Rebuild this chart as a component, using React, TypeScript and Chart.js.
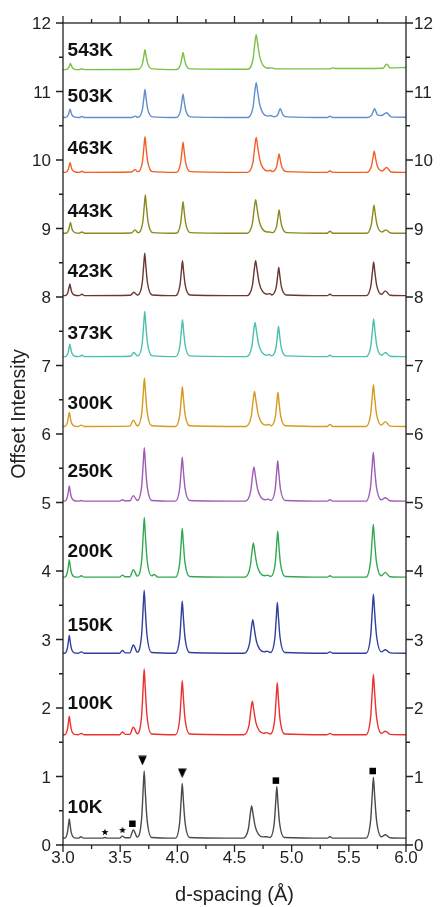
import React, { useEffect, useRef } from "react";
import { Chart, registerables } from "chart.js";

Chart.register(...registerables);

// ---------- data ----------
const TEMPS = ["10K", "100K", "150K", "200K", "250K", "300K", "373K", "423K", "443K", "463K", "503K", "543K"];
const COLORS = ["#4a4a4a", "#ec2f2f", "#2f3f9e", "#33a852", "#a05bb5", "#d69a1e", "#4cbfae", "#6b3530", "#8a8a20", "#f15f24", "#5f8fcc", "#7bc043"];
const LABEL_Y = [0.56, 2.07, 3.22, 4.3, 5.46, 6.46, 7.48, 8.38, 9.26, 10.18, 10.94, 11.61];
const LABEL_X = 3.04;

const X_TICKS = [3.0, 3.5, 4.0, 4.5, 5.0, 5.5, 6.0];
const Y_TICKS = [0, 1, 2, 3, 4, 5, 6, 7, 8, 9, 10, 11, 12];

const T10K = [
  [3.0, 0.1], [3.015, 0.1], [3.039, 0.184], [3.048, 0.296], [3.055, 0.38], [3.062, 0.296], [3.072, 0.184], [3.1, 0.105],
  [3.135, 0.1], [3.157, 0.12], [3.18, 0.1],
  [3.345, 0.1], [3.367, 0.11], [3.39, 0.1],
  [3.495, 0.1], [3.52, 0.13], [3.545, 0.105],
  [3.585, 0.105], [3.615, 0.22], [3.645, 0.12],
  [3.65, 0.115], [3.688, 0.394], [3.701, 0.806], [3.71, 1.08], [3.719, 0.806], [3.734, 0.394], [3.775, 0.11],
  [3.983, 0.1], [4.021, 0.34], [4.034, 0.676], [4.043, 0.9], [4.052, 0.676], [4.067, 0.34], [4.108, 0.11],
  [4.575, 0.1], [4.622, 0.241], [4.638, 0.453], [4.65, 0.57], [4.662, 0.453], [4.682, 0.265], [4.71, 0.156], [4.75, 0.119],
  [4.78, 0.12],
  [4.81, 0.11], [4.848, 0.325], [4.861, 0.64], [4.87, 0.85], [4.879, 0.64], [4.894, 0.325], [4.935, 0.11],
  [5.31, 0.1], [5.335, 0.12], [5.36, 0.1],
  [5.65, 0.1], [5.691, 0.367], [5.705, 0.741], [5.715, 0.99], [5.725, 0.741], [5.742, 0.367], [5.785, 0.12],
  [5.82, 0.15], [5.86, 0.105], [6.0, 0.1],
];
const T100K = [
  [3.0, 1.61], [3.015, 1.61], [3.039, 1.691], [3.048, 1.799], [3.055, 1.88], [3.062, 1.799], [3.072, 1.691], [3.1, 1.615],
  [3.135, 1.61], [3.16, 1.63], [3.185, 1.61],
  [3.495, 1.61], [3.52, 1.65], [3.545, 1.615],
  [3.585, 1.615], [3.615, 1.72], [3.645, 1.63],
  [3.65, 1.625], [3.688, 1.898], [3.701, 2.301], [3.71, 2.57], [3.719, 2.301], [3.734, 1.898], [3.775, 1.62],
  [3.983, 1.61], [4.021, 1.847], [4.034, 2.179], [4.043, 2.4], [4.052, 2.179], [4.067, 1.847], [4.108, 1.62],
  [4.581, 1.61], [4.628, 1.757], [4.644, 1.978], [4.656, 2.1], [4.668, 1.978], [4.688, 1.782], [4.716, 1.669], [4.756, 1.63],
  [4.78, 1.64],
  [4.814, 1.62], [4.852, 1.838], [4.865, 2.157], [4.874, 2.37], [4.883, 2.157], [4.898, 1.838], [4.939, 1.62],
  [5.31, 1.61], [5.335, 1.63], [5.36, 1.61],
  [5.65, 1.61], [5.691, 1.874], [5.705, 2.244], [5.715, 2.49], [5.725, 2.244], [5.742, 1.874], [5.785, 1.63],
  [5.82, 1.66], [5.86, 1.615], [6.0, 1.61],
];
const T150K = [
  [3.0, 2.8], [3.015, 2.8], [3.039, 2.878], [3.048, 2.982], [3.055, 3.06], [3.062, 2.982], [3.072, 2.878], [3.1, 2.805],
  [3.135, 2.8], [3.16, 2.82], [3.185, 2.8],
  [3.495, 2.8], [3.52, 2.84], [3.545, 2.805],
  [3.585, 2.805], [3.615, 2.92], [3.645, 2.82],
  [3.65, 2.815], [3.688, 3.076], [3.701, 3.462], [3.71, 3.72], [3.719, 3.462], [3.734, 3.076], [3.775, 2.81],
  [3.983, 2.8], [4.021, 3.028], [4.034, 3.347], [4.043, 3.56], [4.052, 3.347], [4.067, 3.028], [4.108, 2.81],
  [4.585, 2.8], [4.632, 2.947], [4.648, 3.168], [4.66, 3.29], [4.672, 3.168], [4.692, 2.972], [4.72, 2.859], [4.76, 2.82],
  [4.785, 2.83],
  [4.815, 2.81], [4.853, 3.022], [4.866, 3.333], [4.875, 3.54], [4.884, 3.333], [4.899, 3.022], [4.94, 2.81],
  [5.31, 2.8], [5.335, 2.82], [5.36, 2.8],
  [5.65, 2.8], [5.691, 3.058], [5.705, 3.419], [5.715, 3.66], [5.725, 3.419], [5.742, 3.058], [5.785, 2.82],
  [5.82, 2.85], [5.86, 2.805], [6.0, 2.8],
];
const T200K = [
  [3.0, 3.91], [3.015, 3.91], [3.039, 3.985], [3.048, 4.085], [3.055, 4.16], [3.062, 4.085], [3.072, 3.985], [3.1, 3.915],
  [3.135, 3.91], [3.16, 3.93], [3.185, 3.91],
  [3.495, 3.91], [3.52, 3.94], [3.545, 3.915],
  [3.585, 3.915], [3.615, 4.02], [3.645, 3.93],
  [3.651, 3.925], [3.689, 4.171], [3.702, 4.536], [3.711, 4.78], [3.72, 4.536], [3.735, 4.171], [3.776, 3.93],
  [3.797, 3.95], [3.83, 3.91],
  [3.983, 3.91], [4.021, 4.123], [4.034, 4.421], [4.043, 4.62], [4.052, 4.421], [4.067, 4.123], [4.108, 3.92],
  [4.59, 3.91], [4.637, 4.06], [4.653, 4.285], [4.665, 4.41], [4.677, 4.285], [4.697, 4.085], [4.725, 3.97], [4.765, 3.93],
  [4.79, 3.94],
  [4.818, 3.92], [4.856, 4.111], [4.869, 4.392], [4.878, 4.58], [4.887, 4.392], [4.902, 4.111], [4.943, 3.92],
  [5.31, 3.91], [5.335, 3.93], [5.36, 3.91],
  [5.649, 3.91], [5.69, 4.141], [5.704, 4.464], [5.714, 4.68], [5.724, 4.464], [5.741, 4.141], [5.784, 3.93],
  [5.82, 3.98], [5.86, 3.915], [6.0, 3.91],
];
const T250K = [
  [3.0, 5.02], [3.015, 5.02], [3.039, 5.086], [3.048, 5.174], [3.055, 5.24], [3.062, 5.174], [3.072, 5.086], [3.1, 5.025],
  [3.135, 5.02], [3.16, 5.03], [3.185, 5.02],
  [3.495, 5.02], [3.52, 5.04], [3.545, 5.025],
  [3.585, 5.025], [3.615, 5.1], [3.645, 5.035],
  [3.651, 5.03], [3.689, 5.254], [3.702, 5.582], [3.711, 5.8], [3.72, 5.582], [3.735, 5.254], [3.776, 5.03],
  [3.983, 5.02], [4.021, 5.212], [4.034, 5.481], [4.043, 5.66], [4.052, 5.481], [4.067, 5.212], [4.108, 5.03],
  [4.595, 5.02], [4.642, 5.17], [4.658, 5.395], [4.67, 5.52], [4.682, 5.395], [4.702, 5.195], [4.73, 5.08], [4.77, 5.04],
  [4.795, 5.05],
  [4.818, 5.03], [4.856, 5.197], [4.869, 5.445], [4.878, 5.61], [4.887, 5.445], [4.902, 5.197], [4.943, 5.03],
  [5.31, 5.02], [5.335, 5.04], [5.36, 5.02],
  [5.649, 5.02], [5.69, 5.233], [5.704, 5.531], [5.714, 5.73], [5.724, 5.531], [5.741, 5.233], [5.784, 5.04],
  [5.82, 5.07], [5.86, 5.025], [6.0, 5.02],
];
const T300K = [
  [3.0, 6.11], [3.015, 6.11], [3.039, 6.173], [3.048, 6.257], [3.055, 6.32], [3.062, 6.257], [3.072, 6.173], [3.1, 6.115],
  [3.135, 6.11], [3.16, 6.13], [3.185, 6.11],
  [3.585, 6.115], [3.615, 6.2], [3.645, 6.125],
  [3.652, 6.12], [3.69, 6.323], [3.703, 6.621], [3.712, 6.82], [3.721, 6.621], [3.736, 6.323], [3.777, 6.12],
  [3.984, 6.11], [4.022, 6.284], [4.035, 6.528], [4.044, 6.69], [4.053, 6.528], [4.068, 6.284], [4.109, 6.12],
  [4.6, 6.11], [4.647, 6.263], [4.663, 6.493], [4.675, 6.62], [4.687, 6.493], [4.707, 6.289], [4.735, 6.171], [4.775, 6.13],
  [4.8, 6.14],
  [4.82, 6.12], [4.858, 6.26], [4.871, 6.47], [4.88, 6.61], [4.889, 6.47], [4.904, 6.26], [4.945, 6.12],
  [5.31, 6.11], [5.335, 6.14], [5.36, 6.11],
  [5.65, 6.11], [5.691, 6.293], [5.705, 6.549], [5.715, 6.72], [5.725, 6.549], [5.742, 6.293], [5.785, 6.13],
  [5.82, 6.18], [5.86, 6.115], [6.0, 6.11],
];
const T373K = [
  [3.0, 7.13], [3.02, 7.13], [3.044, 7.184], [3.053, 7.256], [3.06, 7.31], [3.067, 7.256], [3.077, 7.184], [3.105, 7.135],
  [3.14, 7.13], [3.165, 7.15], [3.19, 7.13],
  [3.59, 7.135], [3.62, 7.19], [3.65, 7.14],
  [3.655, 7.14], [3.693, 7.328], [3.706, 7.605], [3.715, 7.79], [3.724, 7.605], [3.739, 7.328], [3.78, 7.14],
  [3.985, 7.13], [4.023, 7.292], [4.036, 7.519], [4.045, 7.67], [4.054, 7.519], [4.069, 7.292], [4.11, 7.14],
  [4.605, 7.13], [4.652, 7.28], [4.668, 7.505], [4.68, 7.63], [4.692, 7.505], [4.712, 7.305], [4.74, 7.19], [4.78, 7.15],
  [4.805, 7.16],
  [4.825, 7.14], [4.863, 7.262], [4.876, 7.447], [4.885, 7.57], [4.894, 7.447], [4.909, 7.262], [4.95, 7.14],
  [5.31, 7.13], [5.335, 7.15], [5.36, 7.13],
  [5.652, 7.13], [5.693, 7.295], [5.707, 7.526], [5.717, 7.68], [5.727, 7.526], [5.744, 7.295], [5.787, 7.15],
  [5.82, 7.19], [5.86, 7.135], [6.0, 7.13],
];
const T423K = [
  [3.0, 8.02], [3.02, 8.02], [3.044, 8.071], [3.053, 8.139], [3.06, 8.19], [3.067, 8.139], [3.077, 8.071], [3.105, 8.025],
  [3.14, 8.02], [3.165, 8.04], [3.19, 8.02],
  [3.59, 8.025], [3.62, 8.07], [3.65, 8.03],
  [3.655, 8.03], [3.693, 8.206], [3.706, 8.466], [3.715, 8.64], [3.724, 8.466], [3.739, 8.206], [3.78, 8.03],
  [3.985, 8.02], [4.023, 8.173], [4.036, 8.387], [4.045, 8.53], [4.054, 8.387], [4.069, 8.173], [4.11, 8.03],
  [4.61, 8.02], [4.657, 8.173], [4.673, 8.403], [4.685, 8.53], [4.697, 8.403], [4.717, 8.199], [4.745, 8.081], [4.785, 8.04],
  [4.81, 8.05],
  [4.827, 8.03], [4.865, 8.143], [4.878, 8.315], [4.887, 8.43], [4.896, 8.315], [4.911, 8.143], [4.952, 8.03],
  [5.31, 8.02], [5.335, 8.04], [5.36, 8.02],
  [5.652, 8.02], [5.693, 8.167], [5.707, 8.373], [5.717, 8.51], [5.727, 8.373], [5.744, 8.167], [5.787, 8.04],
  [5.82, 8.09], [5.86, 8.025], [6.0, 8.02],
];
const T443K = [
  [3.0, 8.93], [3.025, 8.93], [3.049, 8.978], [3.058, 9.042], [3.065, 9.09], [3.072, 9.042], [3.082, 8.978], [3.11, 8.935],
  [3.14, 8.93], [3.165, 8.95], [3.19, 8.93],
  [3.6, 8.935], [3.63, 8.98], [3.655, 8.94],
  [3.66, 8.94], [3.698, 9.098], [3.711, 9.333], [3.72, 9.49], [3.729, 9.333], [3.744, 9.098], [3.785, 8.94],
  [3.99, 8.93], [4.028, 9.068], [4.041, 9.261], [4.05, 9.39], [4.059, 9.261], [4.074, 9.068], [4.115, 8.94],
  [4.61, 8.93], [4.657, 9.077], [4.673, 9.298], [4.685, 9.42], [4.697, 9.298], [4.717, 9.102], [4.745, 8.989], [4.785, 8.95],
  [4.81, 8.95],
  [4.83, 8.94], [4.868, 9.032], [4.881, 9.175], [4.89, 9.27], [4.899, 9.175], [4.914, 9.032], [4.955, 8.94],
  [5.31, 8.93], [5.335, 8.96], [5.36, 8.93],
  [5.655, 8.93], [5.696, 9.053], [5.71, 9.225], [5.72, 9.34], [5.73, 9.225], [5.747, 9.053], [5.79, 8.95],
  [5.825, 8.98], [5.865, 8.935], [6.0, 8.93],
];
const T463K = [
  [3.0, 9.82], [3.022, 9.82], [3.046, 9.862], [3.055, 9.918], [3.062, 9.96], [3.069, 9.918], [3.079, 9.862], [3.107, 9.825],
  [3.14, 9.82], [3.165, 9.835], [3.19, 9.82],
  [3.6, 9.825], [3.63, 9.86], [3.652, 9.83],
  [3.657, 9.83], [3.695, 9.976], [3.708, 10.194], [3.717, 10.34], [3.726, 10.194], [3.741, 9.976], [3.782, 9.83],
  [3.99, 9.82], [4.028, 9.952], [4.041, 10.137], [4.05, 10.26], [4.059, 10.137], [4.074, 9.952], [4.115, 9.83],
  [4.615, 9.82], [4.662, 9.973], [4.678, 10.203], [4.69, 10.33], [4.702, 10.203], [4.722, 9.999], [4.75, 9.881], [4.79, 9.84],
  [4.815, 9.85],
  [4.83, 9.83], [4.868, 9.901], [4.881, 10.014], [4.89, 10.09], [4.899, 10.014], [4.914, 9.901], [4.955, 9.83],
  [5.31, 9.82], [5.335, 9.84], [5.36, 9.82],
  [5.657, 9.82], [5.698, 9.913], [5.712, 10.043], [5.722, 10.13], [5.732, 10.043], [5.749, 9.913], [5.792, 9.84],
  [5.83, 9.89], [5.87, 9.825], [6.0, 9.82],
];
const T503K = [
  [3.0, 10.62], [3.022, 10.62], [3.046, 10.656], [3.055, 10.704], [3.062, 10.74], [3.069, 10.704], [3.079, 10.656], [3.107, 10.625],
  [3.14, 10.62], [3.165, 10.635], [3.19, 10.62],
  [3.6, 10.62], [3.63, 10.64], [3.652, 10.625],
  [3.657, 10.625], [3.695, 10.743], [3.708, 10.915], [3.717, 11.03], [3.726, 10.915], [3.741, 10.743], [3.782, 10.63],
  [3.99, 10.62], [4.028, 10.722], [4.041, 10.865], [4.05, 10.96], [4.059, 10.865], [4.074, 10.722], [4.115, 10.63],
  [4.615, 10.62], [4.662, 10.773], [4.678, 11.003], [4.69, 11.13], [4.702, 11.003], [4.722, 10.799], [4.75, 10.681], [4.79, 10.64],
  [4.815, 10.65],
  [4.845, 10.63], [4.878, 10.659], [4.89, 10.714], [4.9, 10.75], [4.91, 10.714], [4.924, 10.659], [4.96, 10.63],
  [5.31, 10.62], [5.335, 10.64], [5.36, 10.62],
  [5.665, 10.62], [5.701, 10.659], [5.714, 10.714], [5.725, 10.75], [5.736, 10.714], [5.75, 10.659], [5.785, 10.65],
  [5.83, 10.69], [5.87, 10.63], [6.0, 10.625],
];
const T543K = [
  [3.0, 11.32], [3.025, 11.32], [3.049, 11.347], [3.058, 11.383], [3.065, 11.41], [3.072, 11.383], [3.082, 11.347], [3.11, 11.32],
  [3.14, 11.32], [3.165, 11.33], [3.19, 11.32],
  [3.657, 11.325], [3.695, 11.407], [3.708, 11.529], [3.717, 11.61], [3.726, 11.529], [3.741, 11.407], [3.782, 11.33],
  [3.99, 11.32], [4.028, 11.395], [4.041, 11.5], [4.05, 11.57], [4.059, 11.5], [4.074, 11.395], [4.115, 11.33],
  [4.615, 11.325], [4.662, 11.473], [4.678, 11.703], [4.69, 11.83], [4.702, 11.703], [4.722, 11.499], [4.75, 11.381], [4.79, 11.34],
  [4.825, 11.345], [4.86, 11.33],
  [5.33, 11.33], [5.36, 11.345], [5.39, 11.335],
  [5.8, 11.34], [5.83, 11.4], [5.86, 11.345], [6.0, 11.35],
];
const TRACES = [T10K, T100K, T150K, T200K, T250K, T300K, T373K, T423K, T443K, T463K, T503K, T543K];

// phase markers on the 10K pattern
const TRIANGLES = [[3.695, 1.235], [4.043, 1.05]];
const SQUARES = [[3.607, 0.31], [4.862, 0.94], [5.709, 1.08]];
const STARS = [[3.367, 0.19], [3.52, 0.22]];

const FONT = "'Liberation Sans', Arial, Helvetica, sans-serif";

function makeTriangle(): HTMLCanvasElement {
  const c = document.createElement("canvas");
  c.width = 9;
  c.height = 10;
  const g = c.getContext("2d")!;
  g.fillStyle = "#000";
  g.beginPath();
  g.moveTo(0.2, 0.5);
  g.lineTo(8.8, 0.5);
  g.lineTo(4.5, 10);
  g.closePath();
  g.fill();
  return c;
}

function makeStar(): HTMLCanvasElement {
  const c = document.createElement("canvas");
  c.width = 8;
  c.height = 8;
  const g = c.getContext("2d")!;
  g.fillStyle = "#000";
  g.beginPath();
  for (let i = 0; i < 10; i++) {
    const r = i % 2 === 0 ? 3.6 : 1.5;
    const a = -Math.PI / 2 + (i * Math.PI) / 5;
    const px = 4 + r * Math.cos(a);
    const py = 4.3 + r * Math.sin(a);
    if (i === 0) g.moveTo(px, py);
    else g.lineTo(px, py);
  }
  g.closePath();
  g.fill();
  return c;
}

const framePlugin = {
  id: "framePlugin",
  afterDatasetsDraw(chart: any) {
    const { ctx, chartArea } = chart;
    const { left, right, top, bottom } = chartArea;
    const xs = chart.scales.x;
    const ys = chart.scales.y;
    ctx.save();
    ctx.strokeStyle = "#222";
    ctx.lineWidth = 1.3;
    ctx.strokeRect(left, top, right - left, bottom - top);

    const MAJ = 7;
    const MIN = 4;
    ctx.beginPath();
    X_TICKS.forEach((v, i) => {
      const px = xs.getPixelForValue(v);
      ctx.moveTo(px, bottom);
      ctx.lineTo(px, bottom + MAJ);
      ctx.moveTo(px, top);
      ctx.lineTo(px, top - MAJ);
      if (i < X_TICKS.length - 1) {
        const mx = xs.getPixelForValue((v + X_TICKS[i + 1]) / 2);
        ctx.moveTo(mx, bottom);
        ctx.lineTo(mx, bottom + MIN);
        ctx.moveTo(mx, top);
        ctx.lineTo(mx, top - MIN);
      }
    });
    Y_TICKS.forEach((v, i) => {
      const py = ys.getPixelForValue(v);
      ctx.moveTo(left, py);
      ctx.lineTo(left - MAJ, py);
      ctx.moveTo(right, py);
      ctx.lineTo(right + MAJ, py);
      if (i < Y_TICKS.length - 1) {
        const my = ys.getPixelForValue((v + Y_TICKS[i + 1]) / 2);
        ctx.moveTo(left, my);
        ctx.lineTo(left - MIN, my);
        ctx.moveTo(right, my);
        ctx.lineTo(right + MIN, my);
      }
    });
    ctx.stroke();

    ctx.fillStyle = "#222";
    ctx.font = `17px ${FONT}`;
    ctx.textBaseline = "alphabetic";
    ctx.textAlign = "center";
    X_TICKS.forEach((v) => {
      ctx.fillText(v.toFixed(1), xs.getPixelForValue(v), bottom + 17.5);
    });
    Y_TICKS.forEach((v) => {
      const py = ys.getPixelForValue(v) + 6;
      ctx.textAlign = "right";
      ctx.fillText(String(v), left - 12, py);
      ctx.textAlign = "left";
      ctx.fillText(String(v), right + 8, py);
    });

    // axis titles
    ctx.font = `20px ${FONT}`;
    ctx.textAlign = "center";
    ctx.fillText("d-spacing (\u00C5)", (left + right) / 2, bottom + 56);
    ctx.save();
    ctx.translate(25, 414);
    ctx.rotate(-Math.PI / 2);
    ctx.font = `19.5px ${FONT}`;
    ctx.fillText("Offset Intensity", 0, 0);
    ctx.restore();

    // temperature labels
    ctx.font = `bold 19px ${FONT}`;
    ctx.textAlign = "left";
    ctx.textBaseline = "middle";
    ctx.fillStyle = "#111";
    TEMPS.forEach((t, i) => {
      ctx.fillText(t, xs.getPixelForValue(LABEL_X), ys.getPixelForValue(LABEL_Y[i]) + 1);
    });
    ctx.restore();
  },
};

export default function App() {
  const ref = useRef<HTMLCanvasElement | null>(null);

  useEffect(() => {
    if (!ref.current) return;
    const tri = makeTriangle();
    const star = makeStar();
    const toXY = (arr: number[][]) => arr.map(([x, y]) => ({ x, y }));

    const datasets: any[] = TRACES.map((tr, i) => ({
      label: TEMPS[i],
      data: toXY(tr),
      borderColor: COLORS[i],
      borderWidth: 1.4,
      pointRadius: 0,
      cubicInterpolationMode: "monotone",
      fill: false,
    }));
    datasets.push({
      label: "triangles",
      data: toXY(TRIANGLES),
      showLine: false,
      pointStyle: tri,
      pointRadius: 5,
      backgroundColor: "#000",
      borderColor: "#000",
    });
    datasets.push({
      label: "squares",
      data: toXY(SQUARES),
      showLine: false,
      pointStyle: "rect",
      pointRadius: 4.6,
      borderWidth: 0,
      backgroundColor: "#000",
      borderColor: "#000",
    });
    datasets.push({
      label: "stars",
      data: toXY(STARS),
      showLine: false,
      pointStyle: star,
      pointRadius: 4,
      backgroundColor: "#000",
      borderColor: "#000",
    });

    const chart = new Chart(ref.current, {
      type: "line",
      data: { datasets },
      options: {
        responsive: false,
        animation: false,
        devicePixelRatio: 1,
        layout: { padding: { left: 63, right: 34, top: 23, bottom: 62 } },
        scales: {
          x: { type: "linear", min: 3, max: 6, display: false },
          y: { type: "linear", min: 0, max: 12, display: false },
        },
        plugins: {
          legend: { display: false },
          tooltip: { enabled: false },
        },
        events: [],
      },
      plugins: [framePlugin],
    } as any);
    return () => chart.destroy();
  }, []);

  return (
    <div style={{ position: "fixed", left: 0, top: 0, width: 440, height: 907, background: "#fff" }}>
      <canvas ref={ref} width={440} height={907} style={{ display: "block", width: 440, height: 907 }} />
    </div>
  );
}
